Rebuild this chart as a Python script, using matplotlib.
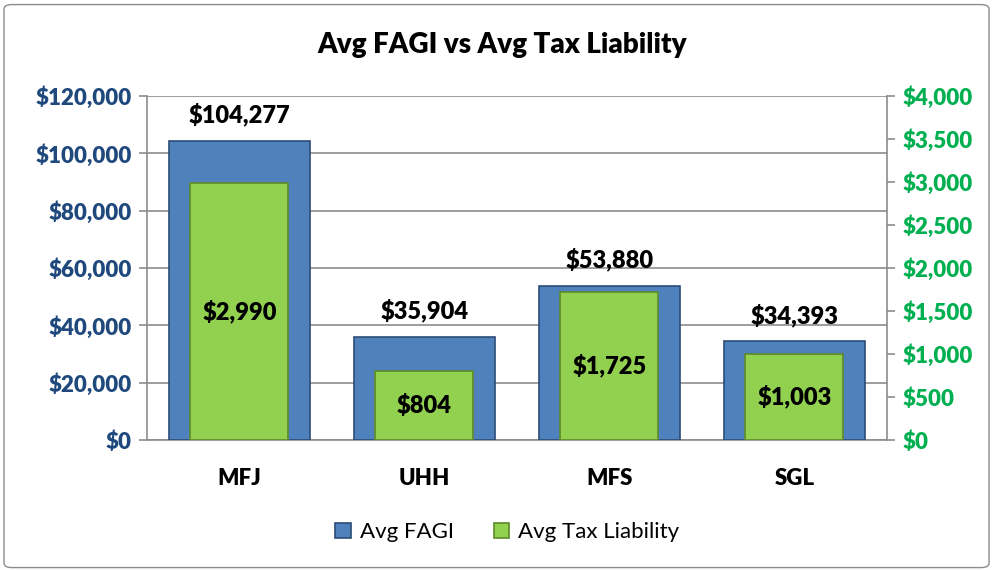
import matplotlib
matplotlib.use("Agg")
import matplotlib.pyplot as plt
from matplotlib.patches import FancyBboxPatch
from matplotlib.ticker import FuncFormatter, MultipleLocator
import numpy as np

categories = ["MFJ", "UHH", "MFS", "SGL"]
avg_fagi = [104277, 35904, 53880, 34393]
avg_tax = [2990, 804, 1725, 1003]

plt.rcParams["font.family"] = ["Lato", "DejaVu Sans"]
W = "heavy"

BLUE = "#4F81BD"
BLUE_EDGE = "#2C4D75"
GREEN = "#92D050"
GREEN_EDGE = "#5E8A2A"
LEFT_COLOR = "#1F497D"
RIGHT_COLOR = "#00B050"

fig = plt.figure(figsize=(9.95, 5.71), dpi=100)
ax = fig.add_axes([0.1477, 0.2294, 0.7437, 0.6025])
ax2 = ax.twinx()

x = np.arange(len(categories))
bars_fagi = ax.bar(x, avg_fagi, width=0.76, color=BLUE, edgecolor=BLUE_EDGE,
                   linewidth=1.2, label="Avg FAGI", zorder=3)
bars_tax = ax2.bar(x, avg_tax, width=0.53, color=GREEN, edgecolor=GREEN_EDGE,
                   linewidth=1.2, label="Avg Tax Liability", zorder=3)

ax.set_xlim(-0.5, len(categories) - 0.5)
ax.set_ylim(0, 120000)
ax2.set_ylim(0, 4000)
ax.yaxis.set_major_locator(MultipleLocator(20000))
ax2.yaxis.set_major_locator(MultipleLocator(500))

money = FuncFormatter(lambda v, p: f"${v:,.0f}")
ax.yaxis.set_major_formatter(money)
ax2.yaxis.set_major_formatter(money)

ax.grid(axis="y", color="#8C8C8C", linewidth=1.2, zorder=0)
ax.set_axisbelow(True)

for a in (ax, ax2):
    for s in a.spines.values():
        s.set_visible(False)
ax.spines["left"].set_visible(True)
ax.spines["left"].set_color("#8C8C8C")
ax.spines["bottom"].set_visible(True)
ax.spines["bottom"].set_color("#8C8C8C")
ax2.spines["right"].set_visible(True)
ax2.spines["right"].set_color("#8C8C8C")
for s in ("left", "bottom"):
    ax.spines[s].set_linewidth(1.2)
ax2.spines["right"].set_linewidth(1.2)

ax.tick_params(axis="y", colors="#8C8C8C", labelcolor=LEFT_COLOR, labelsize=16,
               length=6, width=1.2, pad=5)
ax2.tick_params(axis="y", colors="#8C8C8C", labelcolor=RIGHT_COLOR, labelsize=16,
                length=6, width=1.2, pad=5)
ax.tick_params(axis="x", length=0, labelsize=16, pad=20)
ax.set_xticks(x)
ax.set_xticklabels(categories, fontweight=W)
for lbl in ax.get_yticklabels():
    lbl.set_fontweight(W)
for lbl in ax2.get_yticklabels():
    lbl.set_fontweight(W)

# value labels
for b, v in zip(bars_fagi, avg_fagi):
    ax.text(b.get_x() + b.get_width() / 2, v + 5000, f"${v:,}",
            ha="center", va="bottom", fontsize=17, fontweight=W, zorder=5)
for b, v in zip(bars_tax, avg_tax):
    ax2.text(b.get_x() + b.get_width() / 2, v / 2, f"${v:,}",
             ha="center", va="center", fontsize=17, fontweight=W, zorder=5)

fig.text(0.505, 0.922, "Avg FAGI vs Avg Tax Liability", ha="center", va="center",
         fontsize=20, fontweight=W)

handles = [bars_fagi, bars_tax]
fig.legend(handles, ["Avg FAGI", "Avg Tax Liability"], loc="center",
           bbox_to_anchor=(0.51, 0.068), ncol=2, frameon=False, fontsize=16,
           handlelength=0.7, handleheight=0.7, handletextpad=0.4, columnspacing=1.8)

border = FancyBboxPatch((0.004, 0.006), 0.99, 0.986, boxstyle="round,pad=0,rounding_size=0.008",
                        transform=fig.transFigure, facecolor="none", edgecolor="#8C8C8C",
                        linewidth=1.0)
fig.patches.append(border)

fig.savefig("out.png", dpi=100)
